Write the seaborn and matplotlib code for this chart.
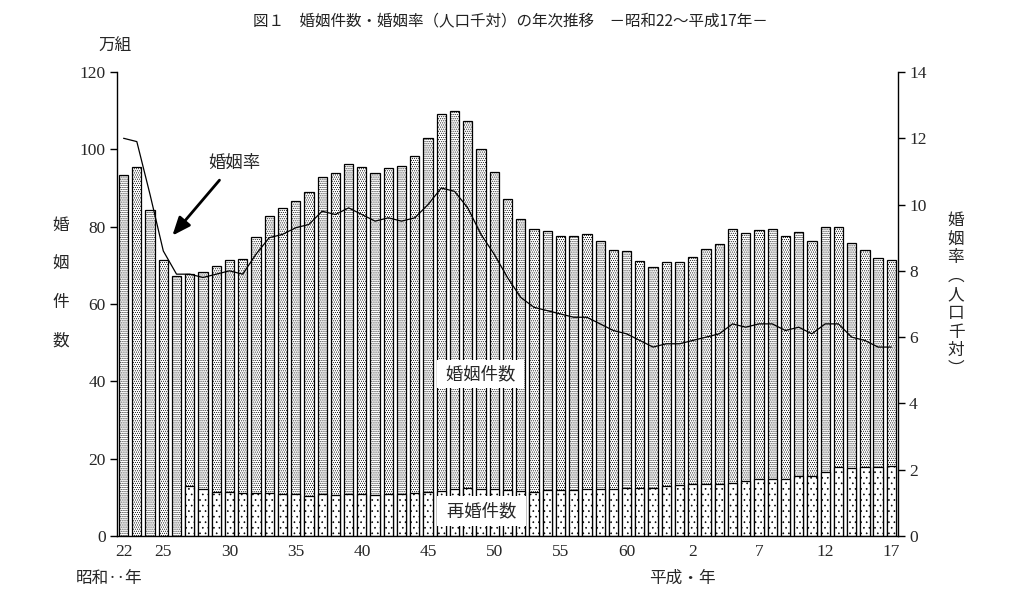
import pandas as pd
import seaborn as sns
import matplotlib.pyplot as plt

# 昭和22年〜平成17年 (1947-2005)
showa_years = list(range(22, 64))
heisei_years = list(range(1, 18))
year_labels = [f"S{y}" for y in showa_years] + [f"H{y}" for y in heisei_years]

# 婚姻件数 (万組)
marriages = [93.4, 95.4, 84.2, 71.5, 67.2, 67.7, 68.2, 69.8, 71.5, 71.6,
             77.3, 82.7, 84.7, 86.6, 89.0, 92.8, 93.8, 96.3, 95.5, 94.0,
             95.3, 95.6, 98.4, 102.9, 109.1, 110.0, 107.2, 100.0, 94.2, 87.2,
             82.1, 79.3, 78.9, 77.5, 77.7, 78.1, 76.3, 74.0, 73.6, 71.1,
             69.6, 70.8, 70.8, 72.2, 74.2, 75.4, 79.3, 78.3, 79.2, 79.5,
             77.6, 78.5, 76.2, 79.8, 80.0, 75.7, 74.0, 72.0, 71.4]

# 再婚件数 (万組) 昭和27年から
remarriage_start = 5
remarriages = [12.8, 12.1, 11.5, 11.3, 11.0, 11.0, 11.0, 10.9, 10.8, 10.4,
               10.8, 10.5, 10.8, 10.8, 10.5, 10.8, 10.8, 11.0, 11.5, 11.7,
               12.1, 12.3, 12.1, 12.1, 11.9, 11.6, 11.5, 11.9, 11.9, 11.9,
               12.1, 12.1, 12.1, 12.3, 12.3, 12.3, 12.8, 13.1, 13.4, 13.4,
               13.4, 13.8, 14.1, 14.7, 14.8, 14.8, 15.4, 15.5, 16.6, 17.8,
               17.5, 17.8, 17.9, 18.1]

# 婚姻率 (人口千対)
rate = [12.0, 11.9, 10.3, 8.6, 7.9, 7.9, 7.8, 7.9, 8.0, 7.9,
        8.5, 9.0, 9.1, 9.3, 9.4, 9.8, 9.7, 9.9, 9.7, 9.5,
        9.6, 9.5, 9.6, 10.0, 10.5, 10.4, 9.9, 9.1, 8.5, 7.8,
        7.2, 6.9, 6.8, 6.7, 6.6, 6.6, 6.4, 6.2, 6.1, 5.9,
        5.7, 5.8, 5.8, 5.9, 6.0, 6.1, 6.4, 6.3, 6.4, 6.4,
        6.2, 6.3, 6.1, 6.4, 6.4, 6.0, 5.9, 5.7, 5.7]

tick_years = ["S22", "S25", "S30", "S35", "S40", "S45", "S50", "S55", "S60",
              "H2", "H7", "H12", "H17"]
tick_text = ["22", "25", "30", "35", "40", "45", "50", "55", "60",
             "2", "7", "12", "17"]

df_total = pd.DataFrame({"year": year_labels, "count": marriages})
df_re = pd.DataFrame({"year": year_labels[remarriage_start:], "count": remarriages})
df_rate = pd.DataFrame({"pos": range(len(year_labels)), "rate": rate})

sns.set_style("white")
plt.rcParams['font.family'] = ['Noto Sans CJK JP', 'DejaVu Sans']
plt.rcParams['hatch.linewidth'] = 0.45
num_font = 'Liberation Serif'

fig = plt.figure(figsize=(10.18, 5.97), dpi=100)
ax = fig.add_axes([0.1149, 0.1022, 0.7672, 0.7772])

# 婚姻件数 (dense dots) and 再婚件数 (sparse dots) overlaid
sns.barplot(data=df_total, x="year", y="count", order=year_labels, ax=ax,
            color="white", saturation=1, edgecolor="black", linewidth=0.9,
            width=0.7, hatch="........")
sns.barplot(data=df_re, x="year", y="count", order=year_labels, ax=ax,
            color="white", saturation=1, edgecolor="black", linewidth=0.9,
            width=0.7, hatch="...")

ax.set_ylim(0, 120)
ax.set_yticks(range(0, 121, 20))
ax.set_yticklabels([str(v) for v in range(0, 121, 20)], fontfamily=num_font, fontsize=12.5)
ax.set_xticks([year_labels.index(y) for y in tick_years])
ax.set_xticklabels(tick_text, fontfamily=num_font, fontsize=12.5)
ax.tick_params(axis='x', length=0, pad=6)
ax.tick_params(axis='y', direction='out', length=5, width=1, color='black', pad=3)
ax.set_xlabel("")
ax.set_ylabel("")

ax2 = ax.twinx()
sns.lineplot(data=df_rate, x="pos", y="rate", ax=ax2, color="black", linewidth=0.9)
ax2.set_ylim(0, 14)
ax2.set_yticks(range(0, 15, 2))
ax2.set_yticklabels([str(v) for v in range(0, 15, 2)], fontfamily=num_font, fontsize=12.5)
ax2.tick_params(axis='y', direction='out', length=5, width=1, color='black', pad=3)
ax2.set_ylabel("")
ax2.set_xlabel("")
ax.set_xlim(-0.5, len(year_labels) - 0.5)

for a in (ax, ax2):
    a.spines['top'].set_visible(False)
    for s in ('left', 'right', 'bottom'):
        a.spines[s].set_color('black')
        a.spines[s].set_linewidth(1)
    a.grid(False)
ax.spines['right'].set_visible(False)
ax2.spines['left'].set_visible(False)
ax2.spines['bottom'].set_visible(False)

# labels inside the plot
ax.text(26.96, 41.9, " 婚姻件数 ", ha='center', va='center', fontsize=12.5,
        bbox=dict(facecolor='white', edgecolor='none', boxstyle='square,pad=0.3'))
ax.text(27.04, 6.5, " 再婚件数 ", ha='center', va='center', fontsize=12.5,
        bbox=dict(facecolor='white', edgecolor='none', boxstyle='square,pad=0.35'))
ax2.annotate("", xy=(3.55, 9.0), xytext=(7.38, 10.8),
             arrowprops=dict(arrowstyle='-|>,head_length=1.1,head_width=0.45',
                             color='black', lw=2))
ax2.text(8.38, 11.25, "婚姻率", ha='center', va='center', fontsize=12.5)

# title and axis captions
fig.text(510 / 1018, 1 - 22 / 597, "図１　婚姻件数・婚姻率（人口千対）の年次推移　－昭和22～平成17年－",
         ha='center', va='center', fontsize=11.2, color='#222222')
fig.text(115 / 1018, 1 - 46 / 597, "万組", ha='center', va='center', fontsize=12)
fig.text(61 / 1018, 1 - 283 / 597, "婚\n姻\n件\n数", ha='center', va='center',
         fontsize=12, linespacing=2.65)
fig.text(956 / 1018, 1 - 295 / 597, "婚\n姻\n率\n︵\n人\n口\n千\n対\n︶", ha='center',
         va='center', fontsize=12, linespacing=1.12)
fig.text(109 / 1018, 1 - 578 / 597, "昭和‥年", ha='center', va='center', fontsize=12)
fig.text(682 / 1018, 1 - 578 / 597, "平成・年", ha='center', va='center', fontsize=12)

fig.savefig("out.png", dpi=100, facecolor='white')
